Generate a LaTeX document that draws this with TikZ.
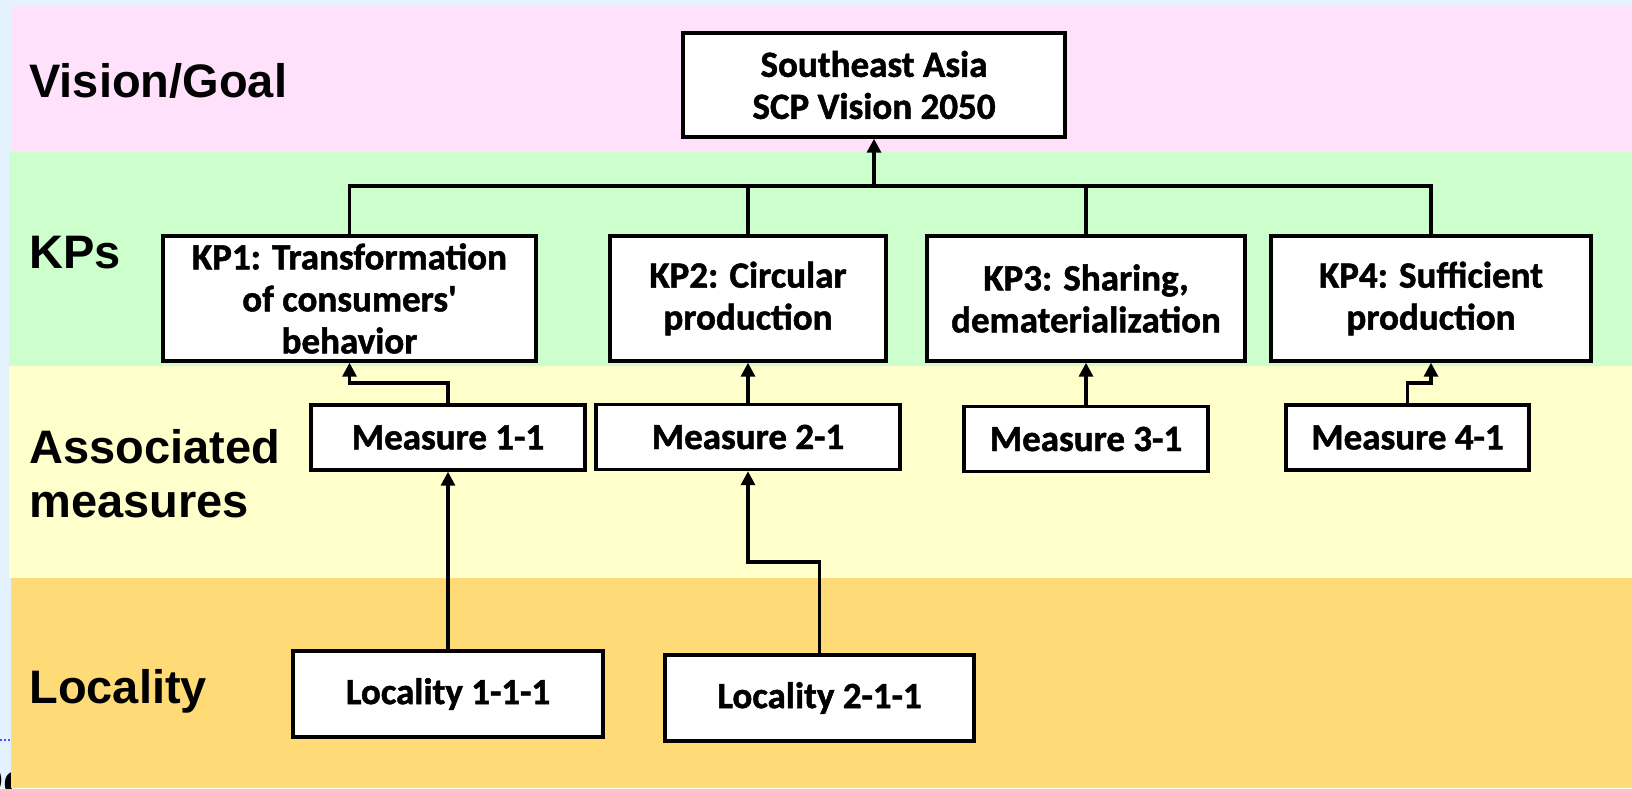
\documentclass[tikz,border=0pt]{standalone}
\usepackage{fontspec}
\setmainfont{Carlito}[BoldFeatures={FakeBold=1.3}]
\newfontfamily\labfont{Liberation Sans}
\usetikzlibrary{arrows.meta}
\definecolor{bgblue}{HTML}{E4F2FF}
\definecolor{bandpink}{HTML}{FFE1FC}
\definecolor{bandgreen}{HTML}{CCFFCC}
\definecolor{bandyellow}{HTML}{FFFFCC}
\definecolor{bandorange}{HTML}{FFDB77}
\tikzset{
  box/.style={draw=black, line width=1.7pt, fill=white, inner sep=0pt, align=center,
    font=\bfseries\fontsize{18.5}{21}\selectfont},
  rowlabel/.style={anchor=base west, inner sep=0pt, font=\labfont\bfseries\fontsize{23.5}{28}\selectfont},
  link/.style={draw=black, line width=1.6pt},
  arr/.style={link, -{Triangle[length=7pt,width=7pt]}},
}
\begin{document}
\begin{tikzpicture}[x=0.5pt,y=-0.5pt]
\useasboundingbox (0,0) rectangle (1632,788);
\clip (0,0) rectangle (1632,788);
% background and bands
\fill[bgblue] (0,0) rectangle (1632,788);
\node[anchor=base west, inner sep=0pt, font=\labfont\bfseries\fontsize{23}{28}\selectfont] (de) at (-30,796) {De};
\draw[blue!70, line width=1.2pt, dash pattern=on 1pt off 1pt] (0,740) -- (11,740);
\fill[bandpink] (11,6) rectangle (1632,152);
\fill[bandgreen] (9,152) rectangle (1632,366);
\fill[bandyellow] (9,366) rectangle (1632,578);
\fill[bandorange] (11,578) rectangle (1632,788);
% row labels
\node[rowlabel] (lvision) at (29,97) {Vision/Goal};
\node[rowlabel] (lkps) at (29,268) {KPs};
\node[rowlabel] (lassoc) at (29,463) {Associated};
\node[rowlabel] (lmeas) at (29,517) {measures};
\node[rowlabel] (lloc) at (29,703) {Locality};
% boxes
\node[box, minimum width=191pt, minimum height=52pt] (vision) at (874,85) {Southeast Asia\\SCP Vision 2050};
\node[box, minimum width=186.5pt, minimum height=62.5pt] (kp1) at (349.5,298.5) {KP1: Transformation\\of consumers\textquotesingle\\behavior};
\node[box, minimum width=138pt, minimum height=62.5pt] (kp2) at (748,298.5) {KP2: Circular\\production};
\node[box, minimum width=159pt, minimum height=62.5pt] (kp3) at (1086,298.5) {KP3: Sharing,\\dematerialization};
\node[box, minimum width=160pt, minimum height=62.5pt] (kp4) at (1431,298.5) {KP4: Sufficient\\production};
\node[box, minimum width=137pt, minimum height=32.5pt] (m1) at (448,437.5) {Measure 1-1};
\node[box, minimum width=152pt, minimum height=32.5pt] (m2) at (748,437) {Measure 2-1};
\node[box, minimum width=122pt, minimum height=32.5pt] (m3) at (1086,439) {Measure 3-1};
\node[box, minimum width=121.5pt, minimum height=32.5pt] (m4) at (1407.5,437.5) {Measure 4-1};
\node[box, minimum width=155pt, minimum height=43pt] (l1) at (448,694) {Locality 1-1-1};
\node[box, minimum width=154.5pt, minimum height=43pt] (l2) at (819.5,698) {Locality 2-1-1};
% helper coordinates
\coordinate (bus) at (874,186);
\coordinate (e1) at (0,383);
\coordinate (e2) at (0,562);
% connectors
\draw[link] (kp1.north) |- (kp4.north |- bus) -- (kp4.north);
\draw[link] (kp2.north) -- (kp2.north |- bus);
\draw[link] (kp3.north) -- (kp3.north |- bus);
\draw[arr] (bus) -- (vision.south);
\draw[arr] (m1.north) -- (m1.north |- e1) -| (kp1.south);
\draw[arr] (m2.north) -- (kp2.south);
\draw[arr] (m3.north) -- (kp3.south);
\draw[arr] (m4.north) -- (m4.north |- e1) -| (kp4.south);
\draw[arr] (l1.north) -- (m1.south);
\draw[arr] (l2.north) -- (l2.north |- e2) -| (m2.south);
\end{tikzpicture}
\end{document}
